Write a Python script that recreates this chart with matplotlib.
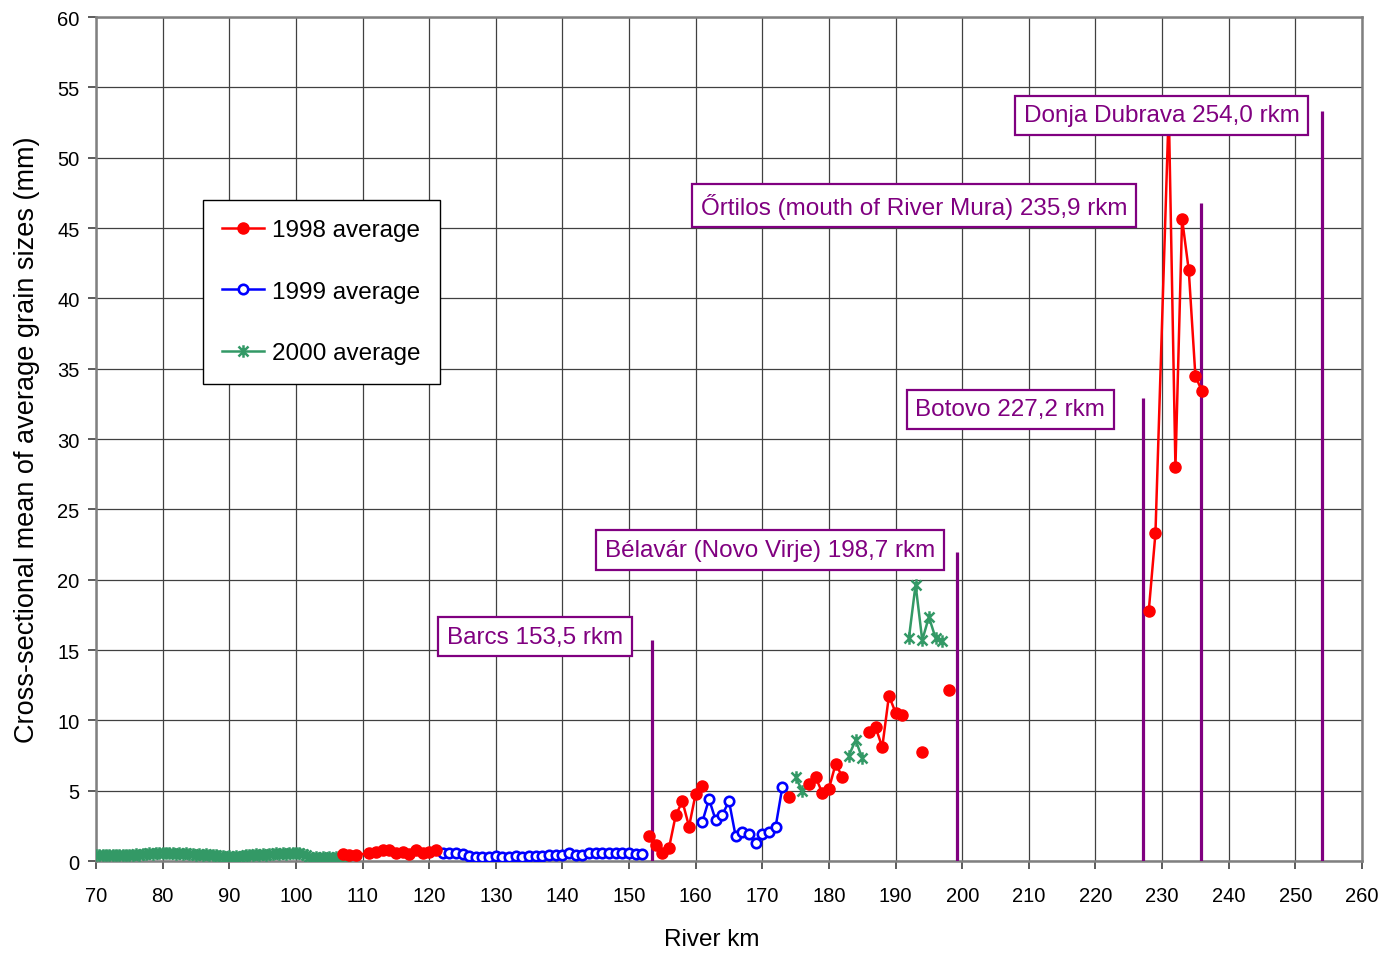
import numpy as np
import matplotlib
matplotlib.use("Agg")
import matplotlib.pyplot as plt
from matplotlib.path import Path

plt.rcParams['font.family'] = ['Liberation Sans', 'DejaVu Sans']

nan = np.nan

# ---------------- data ----------------
km_1998 = [107, 108, 109, 111, 112, 113, 114, 115, 116, 117, 118, 119, 120, 121,
           137,
           153, 154, 155, 156, 157, 158, 159, 160, 161,
           167,
           174,
           175.5,
           177, 178, 179, 180, 181, 182,
           184,
           186, 187, 188, 189, 190, 191,
           192.5,
           194,
           196,
           198,
           210,
           228, 229, 231, 232, 233, 234, 235, 236]
val_1998 = [0.5, 0.45, 0.4, 0.6, 0.65, 0.8, 0.75, 0.6, 0.65, 0.5, 0.75, 0.55, 0.65, 0.75,
            nan,
            1.8, 1.15, 0.55, 0.95, 3.25, 4.25, 2.45, 4.8, 5.3,
            nan,
            4.55,
            nan,
            5.45, 5.95, 4.85, 5.15, 6.9, 6.0,
            nan,
            9.2, 9.5, 8.1, 11.75, 10.55, 10.35,
            nan,
            7.75,
            nan,
            12.15,
            nan,
            17.8, 23.3, 53.5, 28.0, 45.65, 42.0, 34.45, 33.4]

km_1999 = [122, 123, 124, 125, 126, 127, 128, 129, 130, 131, 132, 133, 134, 135, 136,
           137, 138, 139, 140, 141, 142, 143, 144, 145, 146, 147, 148, 149, 150, 151, 152,
           156,
           161, 162, 163, 164, 165, 166, 167, 168, 169, 170, 171, 172, 173]
val_1999 = [0.55, 0.55, 0.55, 0.5, 0.35, 0.3, 0.3, 0.3, 0.35, 0.3, 0.3, 0.35, 0.3, 0.35, 0.35,
            0.35, 0.4, 0.4, 0.4, 0.55, 0.45, 0.45, 0.6, 0.6, 0.6, 0.6, 0.6, 0.6, 0.55, 0.5, 0.5,
            nan,
            2.8, 4.4, 2.9, 3.3, 4.25, 1.75, 2.05, 1.95, 1.25, 1.9, 2.05, 2.45, 5.25]

km_2000 = [70.0, 70.5, 71.0, 71.5, 72.0, 72.5, 73.0, 73.5, 74.0, 74.5, 75.0,
           75.5, 76.0, 76.5, 77.0, 77.5, 78.0, 78.5, 79.0, 79.5, 80.0,
           80.5, 81.0, 81.5, 82.0, 82.5, 83.0, 83.5, 84.0, 84.5, 85.0,
           85.5, 86.0, 86.5, 87.0, 87.5, 88.0, 88.5, 89.0, 89.5, 90.0,
           90.5, 91.0, 91.5, 92.0, 92.5, 93.0, 93.5, 94.0, 94.5, 95.0,
           95.5, 96.0, 96.5, 97.0, 97.5, 98.0, 98.5, 99.0, 99.5, 100.0,
           100.5, 101.0, 101.5,
           102.0, 102.5, 103.0, 103.5, 104.0, 104.5, 105.0, 105.5, 106.0, 106.5, 107.0, 107.5,
           140,
           175, 176,
           180,
           183, 184, 185,
           188,
           192, 193, 194, 195, 196, 197]
val_2000 = [0.45, 0.4, 0.45, 0.4, 0.45, 0.4, 0.45, 0.4, 0.45, 0.4, 0.45,
            0.45, 0.5, 0.45, 0.5, 0.5, 0.55, 0.5, 0.55, 0.6, 0.6,
            0.55, 0.6, 0.55, 0.5, 0.55, 0.5, 0.55, 0.5, 0.5, 0.45,
            0.5, 0.45, 0.5, 0.45, 0.4, 0.4, 0.35, 0.35, 0.3, 0.35,
            0.3, 0.35, 0.3, 0.35, 0.4, 0.45, 0.4, 0.5, 0.45, 0.5,
            0.45, 0.5, 0.5, 0.55, 0.5, 0.55, 0.5, 0.6, 0.55, 0.55,
            0.6, 0.5, 0.45,
            0.3, 0.25, 0.3, 0.25, 0.3, 0.25, 0.3, 0.25, 0.3, 0.25, 0.3, 0.35,
            nan,
            6.0, 4.95,
            nan,
            7.5, 8.6, 7.3,
            nan,
            15.85, 19.65, 15.7, 17.35, 15.85, 15.65]

site_names = ["Barcs 153,5 rkm", "Bélavár (Novo Virje) 198,7 rkm", "Botovo 227,2 rkm",
              "Őrtilos (mouth of River Mura) 235,9 rkm", "Donja Dubrava 254,0 rkm"]
site_km = [153.5, 199.2, 227.2, 235.9, 254.0]
site_line_top = [15.7, 22.0, 32.9, 46.8, 53.3]
site_label_x = [135.9, 171.2, 207.2, 192.8, 229.9]
site_label_y = [15.95, 22.1, 32.1, 46.6, 53.0]

# ---------------- figure ----------------
fig = plt.figure(figsize=(13.84, 9.54), dpi=100)
ax = fig.add_axes([0.0694, 0.0964, 0.9147, 0.8847])

purple = '#800080'

for k, top in zip(site_km, site_line_top):
    ax.plot([k, k], [0, top], color=purple, lw=2.3, zorder=3, solid_capstyle='butt')

star = Path([(-1, -1), (1, 1), (-1, 1), (1, -1), (0, -1.25), (0, 1.25)],
            [Path.MOVETO, Path.LINETO, Path.MOVETO, Path.LINETO, Path.MOVETO, Path.LINETO])

ax.plot(km_2000, val_2000, color='#339966', lw=1.8, marker=star, ms=9,
        mfc='none', mec='#339966', mew=1.8, label='2000 average', zorder=4)
ax.plot(km_1999, val_1999, color='#0000FF', lw=1.8, marker='o', ms=6.8,
        mfc='white', mec='#0000FF', mew=1.9, label='1999 average', zorder=5)
ax.plot(km_1998, val_1998, color='#FF0000', lw=1.8, marker='o', ms=8,
        mfc='#FF0000', mec='#FF0000', label='1998 average', zorder=6)

for name, lx, ly in zip(site_names, site_label_x, site_label_y):
    ax.text(lx, ly, name, color=purple, fontsize=17.5, ha='center', va='center', zorder=20,
            bbox=dict(boxstyle='square,pad=0.36', facecolor='white', edgecolor=purple, lw=1.6))

ax.set_xlim(70, 260)
ax.set_ylim(0, 60)
ax.set_xticks(np.arange(70, 261, 10))
ax.set_yticks(np.arange(0, 61, 5))
ax.grid(True, color='#404040', lw=0.9)
ax.set_axisbelow(True)
ax.tick_params(axis='both', labelsize=14.5, direction='out', length=6, width=1.2, color='#404040')
ax.tick_params(axis='x', pad=12)
ax.tick_params(axis='y', pad=6)
for s in ax.spines.values():
    s.set_color('#808080')
    s.set_linewidth(1.8)

ax.set_xlabel('River km', fontsize=17.5, va='center')
ax.xaxis.set_label_coords(0.486, -0.0924)
ax.set_ylabel('Cross-sectional mean of average grain sizes (mm)', fontsize=19.5,
              va='center', ha='center')
ax.yaxis.set_label_coords(-0.0545, 0.5)

handles, labels = ax.get_legend_handles_labels()
order = [2, 1, 0]
leg = ax.legend([handles[i] for i in order], [labels[i] for i in order],
                loc='upper left', bbox_to_anchor=(0.0845, 0.7832), fontsize=17.5,
                frameon=True, fancybox=False, edgecolor='black', framealpha=1,
                labelspacing=1.62, handlelength=1.7, handletextpad=0.35,
                borderpad=0.8, borderaxespad=0)
leg.get_frame().set_linewidth(1.0)
leg.set_zorder(21)

fig.savefig('out.png', dpi=100)
